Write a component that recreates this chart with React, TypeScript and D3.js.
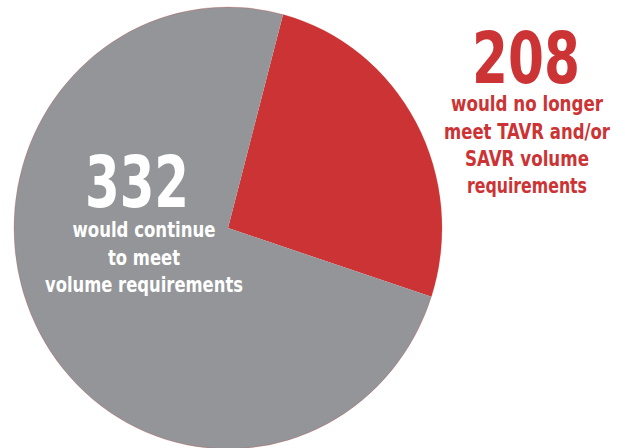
import React from "react";
import * as d3 from "d3";

// Counts shown in the labels
const categories = ["would no longer meet", "would continue to meet"];
const counts = [208, 332];
// Slice shares as drawn in the picture (percent of the circle)
const sliceShares = [25.9, 74.1];
const sliceColors = ["#CC3334", "#939598"];

const redLines = ["would no longer", "meet TAVR and/or", "SAVR volume", "requirements"];
const grayLines = ["would continue", "to meet", "volume requirements"];

const W = 625;
const H = 448;
const cx = 228;
const cy = 228;
const rx = 214;
const ry = 221;
const startDeg = 14.9;

const FONT = "'Liberation Sans Narrow', 'DejaVu Sans Condensed', 'Liberation Sans', Arial, sans-serif";

export default function App() {
  const pie = d3
    .pie<number>()
    .sort(null)
    .value((d) => d)
    .startAngle((startDeg * Math.PI) / 180)
    .endAngle((startDeg * Math.PI) / 180 + 2 * Math.PI);
  const arcs = pie(sliceShares);
  const arc = d3.arc<d3.PieArcDatum<number>>().innerRadius(0).outerRadius(ry);

  const redWidths = [152, 166, 124, 120];
  const redBase = [111, 139, 166, 193];
  const grayWidths = [143, 72, 198];
  const grayBase = [237, 265, 292];

  return (
    <svg
      width={W}
      height={H}
      style={{ position: "absolute", left: 0, top: 0, display: "block" }}
      xmlns="http://www.w3.org/2000/svg"
    >
      <rect width={W} height={H} fill="#ffffff" />
      <g transform={`translate(${cx},${cy}) scale(${rx / ry},1)`}>
        {arcs.map((a, i) => (
          <path key={categories[i]} d={arc(a) || ""} fill={sliceColors[i]} />
        ))}
        <ellipse cx={0} cy={0} rx={ry} ry={ry} fill="none" stroke="rgba(204,51,52,0.35)" strokeWidth={0.7} />
      </g>

      {/* Red label */}
      <text
        x={526}
        y={83}
        textAnchor="middle"
        fill={sliceColors[0]}
        fontFamily={FONT}
        fontWeight="bold"
        fontSize={71}
        textLength={108}
        lengthAdjust="spacingAndGlyphs"
      >
        {counts[0]}
      </text>
      {redLines.map((t, i) => (
        <text
          key={t}
          x={527}
          y={redBase[i]}
          textAnchor="middle"
          fill={sliceColors[0]}
          fontFamily={FONT}
          fontWeight="bold"
          fontSize={21}
          textLength={redWidths[i]}
          lengthAdjust="spacingAndGlyphs"
        >
          {t}
        </text>
      ))}

      {/* Gray label */}
      <text
        x={137}
        y={207}
        textAnchor="middle"
        fill="#ffffff"
        fontFamily={FONT}
        fontWeight="bold"
        fontSize={72}
        textLength={104}
        lengthAdjust="spacingAndGlyphs"
      >
        {counts[1]}
      </text>
      {grayLines.map((t, i) => (
        <text
          key={t}
          x={144}
          y={grayBase[i]}
          textAnchor="middle"
          fill="#ffffff"
          fontFamily={FONT}
          fontWeight="bold"
          fontSize={21}
          textLength={grayWidths[i]}
          lengthAdjust="spacingAndGlyphs"
        >
          {t}
        </text>
      ))}
    </svg>
  );
}
